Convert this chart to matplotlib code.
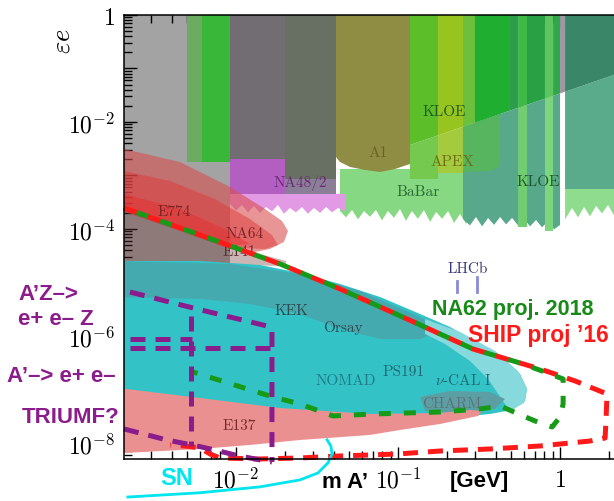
import numpy as np
import matplotlib.pyplot as plt
from matplotlib.ticker import FixedLocator, LogLocator, FuncFormatter, NullFormatter

plt.rcParams['mathtext.fontset'] = 'cm'

# all shapes are given as log10(m_A' / GeV) and log10(eps)

# a_e (gray) region on the upper left
gray_lm = [-2.8, -2.037, -2.037, -2.8]
gray_le = [0.1, 0.1, -4.8, -4.8]

# upper bands with flat bottoms
band_edges = [-2.302, -2.210, -2.037, -1.698, -1.383]
band_bottom = [-2.748, -2.748, -2.692, -3.065]
band_colors = ['#6cab62', '#39b739', '#716d72', '#686f63']

# upper bands ending on the slanted line
slant_edges = [-0.926, -0.753, -0.599, -0.525, -0.309, -0.259, -0.204, -0.093, -0.043, 0.000, 0.031, 0.370]
slant_bottom = [-2.430, -2.250, -2.090, -2.013, -1.788, -1.736, -1.679, -1.564, -1.512, -1.467, -1.435, -1.082]
slant_colors = ['#5cbe28', '#98c41f', '#6cc03c', '#1fae2f', '#2d9d4b', '#3db947',
                '#27a143', '#5ec45e', '#32a64c', '#9e98a2', '#3a8669']

# A1
a1_lm = [-1.383, -0.926, -0.926, -1.019, -1.111, -1.204, -1.296, -1.358, -1.383]
a1_le = [0.1, 0.1, -2.785, -2.879, -2.935, -2.897, -2.841, -2.748, -2.654]

# NA48/2
na48_lm = [-2.037, -1.698, -1.698, -2.037]
na48_le = [-2.692, -2.692, -3.421, -3.421]
na48b_lm = [-1.698, -1.383, -1.383, -1.698]
na48b_le = [-3.065, -3.065, -3.421, -3.421]
na48_fr_lm = [-2.037, -2.000, -1.963, -1.926, -1.889, -1.852, -1.815, -1.778, -1.741, -1.704,
              -1.667, -1.630, -1.593, -1.556, -1.519, -1.481, -1.444, -1.407, -1.370, -1.327]
na48_fr_le = [-3.533, -3.652, -3.551, -3.690, -3.570, -3.700, -3.589, -3.671, -3.551, -3.717,
              -3.607, -3.690, -3.589, -3.717, -3.607, -3.700, -3.589, -3.690, -3.607, -3.671]

# BaBar
babar_lm = [-1.358, -1.321, -1.284, -1.247, -1.210, -1.173, -1.136, -1.099, -1.062, -1.025, -0.988, -0.951,
            -0.914, -0.877, -0.840, -0.802, -0.765, -0.728, -0.691, -0.654, -0.617, -0.580, -0.556]
babar_le = [-3.664, -3.783, -3.645, -3.820, -3.664, -3.772, -3.645, -3.839, -3.664, -3.792, -3.626, -3.848,
            -3.664, -3.810, -3.645, -3.867, -3.682, -3.810, -3.664, -3.885, -3.720, -3.904, -3.776]

# KLOE / APEX lower parts
kloe_lm = [-0.599, -0.556, -0.519, -0.481, -0.444, -0.407, -0.370, -0.333, -0.296,
           -0.259, -0.222, -0.185, -0.148, -0.111, -0.074, -0.037, 0.000]
kloe_le = [-3.813, -3.933, -3.776, -3.951, -3.794, -3.923, -3.776, -3.914, -3.794,
           -3.933, -3.813, -3.951, -3.832, -3.970, -3.850, -4.007, -3.925]
right_lm = [0.031, 0.074, 0.111, 0.148, 0.185, 0.222, 0.259, 0.296, 0.333, 0.370]
right_le = [-3.820, -3.607, -3.783, -3.589, -3.764, -3.570, -3.708, -3.551, -3.746, -3.589]

# beam dumps, red
na64_lm = [-2.778, -2.691, -2.346, -2.037, -1.821, -1.716, -1.679, -1.704, -1.790, -1.914, -2.037, -2.346, -2.691, -2.778]
na64_le = [-2.467, -2.505, -2.748, -3.215, -3.626, -3.850, -4.037, -4.243, -4.374, -4.449, -4.374, -4.037, -3.682, -3.589]
e774_lm = [-2.778, -2.691, -2.407, -2.130, -1.914, -1.778, -1.741, -1.821, -1.975, -2.222, -2.691, -2.778]
e774_le = [-2.879, -2.916, -3.103, -3.439, -3.813, -4.112, -4.299, -4.374, -4.355, -4.150, -3.664, -3.570]
e774b_lm = [-2.778, -2.691, -2.346, -2.068, -1.914, -2.037, -2.346, -2.691, -2.778]
e774b_le = [-3.308, -3.346, -3.626, -4.000, -4.280, -4.318, -4.000, -3.645, -3.551]
e141_lm = [-2.778, -2.691, -2.222, -1.852, -1.691, -1.691, -2.222, -2.691, -2.778]
e141_le = [-3.533, -3.626, -4.131, -4.467, -4.598, -4.700, -4.636, -4.598, -4.598]

# beam dumps, cyan
dump_lm = [-2.778, -2.222, -1.852, -1.605, -1.358, -1.111, -0.864, -0.679, -0.494, -0.340, -0.247, -0.204,
           -0.216, -0.296, -0.432, -0.617, -0.864, -1.173, -1.605, -1.914, -2.222, -2.531, -2.778]
dump_le = [-4.598, -4.598, -4.673, -4.822, -5.028, -5.271, -5.589, -5.832, -6.150, -6.467, -6.710, -6.991,
           -7.215, -7.383, -7.458, -7.514, -7.551, -7.551, -7.477, -7.364, -7.215, -7.065, -6.991]
kek_lm = [-2.778, -2.037, -1.605, -1.235, -0.864, -0.710, -0.864, -1.111, -1.358, -1.605, -1.914, -2.222, -2.778]
kek_le = [-4.598, -4.654, -4.841, -5.159, -5.645, -5.869, -6.056, -6.056, -5.869, -5.589, -5.402, -5.308, -5.271]
nucal_lm = [-0.833, -0.617, -0.401, -0.259, -0.204, -0.222, -0.309, -0.370, -0.444, -0.556, -0.710, -0.833]
nucal_le = [-5.682, -5.925, -6.280, -6.654, -6.991, -7.252, -7.402, -7.140, -6.804, -6.467, -6.150, -5.963]
charm_lm = [-0.864, -0.679, -0.432, -0.340, -0.401, -0.617, -0.833]
charm_le = [-7.140, -7.028, -7.047, -7.178, -7.364, -7.439, -7.402]
e137_lm = [-2.778, -2.222, -1.728, -1.173, -0.741, -0.556, -0.481, -0.506, -0.741, -0.988, -1.173, -1.605,
           -1.914, -2.222, -2.691, -2.778]
e137_le = [-6.953, -7.159, -7.346, -7.458, -7.439, -7.383, -7.402, -7.495, -7.645, -7.757, -7.850, -7.944,
           -8.037, -8.112, -8.187, -8.187]

# projections
ship_lm = [-2.691, -2.222, -1.728, -1.358, -0.944, -0.537, -0.123, 0.093, 0.290, 0.284, 0.278, 0.185,
           -0.123, -0.432, -0.741, -1.006, -1.173, -1.358, -1.605, -1.852, -2.099, -2.160, -2.222, -2.315, -2.407]
ship_le = [-3.607, -4.112, -4.654, -5.121, -5.682, -6.243, -6.617, -6.841, -7.084, -7.551, -7.907, -7.963,
           -8.056, -8.112, -8.150, -8.206, -8.224, -8.243, -8.280, -8.299, -8.280, -8.206, -8.093, -8.056, -8.037]
na62_lm = [-2.691, -2.222, -1.728, -1.358, -0.944, -0.537, -0.247, -0.093, 0.019, 0.019, 0.000, -0.049,
           -0.154, -0.228, -0.370, -0.494, -0.741, -0.944, -1.154, -1.401, -1.605, -1.772, -2.265]
na62_le = [-3.607, -4.112, -4.654, -5.121, -5.682, -6.243, -6.505, -6.673, -6.804, -7.271, -7.514, -7.701,
           -7.589, -7.495, -7.308, -7.364, -7.421, -7.439, -7.458, -7.495, -7.271, -7.140, -6.673]
az_lm = [-2.654, -2.241, -1.809, -1.778, -1.778]
az_le = [-5.178, -5.495, -5.813, -5.869, -8.355]
az_low_lm = [-2.691, -2.426, -2.241, -2.130, -2.006, -1.883, -1.778]
az_low_le = [-7.738, -7.944, -8.056, -8.131, -8.224, -8.299, -8.355]
triumf_h1_lm = [-2.654, -1.778]
triumf_h1_le = [-6.224, -6.224]
triumf_h2_lm = [-2.654, -2.272]
triumf_h2_le = [-6.056, -6.056]
triumf_v_lm = [-2.278, -2.278]
triumf_v_le = [-5.626, -8.056]
sn_lm = [-2.667, -2.222, -1.852, -1.605, -1.494, -1.432, -1.407, -1.414, -1.438]
sn_le = [-9.01, -8.93, -8.82, -8.69, -8.56, -8.37, -8.21, -8.06, -7.94]
lhcb_lm = [-0.639, -0.515]
lhcb_lo = [-5.178, -5.178]
lhcb_hi = [-4.972, -4.897]

x_ticks = [1e-2, 1e-1, 1.0]
y_ticks = [1e-8, 1e-7, 1e-6, 1e-5, 1e-4, 1e-3, 1e-2, 1e-1, 1.0]


def P(v):
    return 10 ** np.asarray(v, dtype=float)


fig = plt.figure(figsize=(6.14, 5.02), dpi=100)
ax = fig.add_axes([0.202, 0.0837, 0.798, 0.8845])
ax.set_xscale('log')
ax.set_yscale('log')


def patch(lm, le, color, z=1, alpha=1.0):
    ax.fill(P(lm), P(le), color=color, alpha=alpha, lw=0, zorder=z)


patch(gray_lm, gray_le, '#a3a3a3', 1)
patch(babar_lm[:1] + babar_lm + babar_lm[-1:],
      [-2.879] + babar_le + [-2.879], '#86d982', 2)
for i, c in enumerate(band_colors):
    patch([band_edges[i], band_edges[i + 1], band_edges[i + 1], band_edges[i]],
          [0.1, 0.1, band_bottom[i], band_bottom[i]], c, 3)
patch(na48_lm, na48_le, '#b35fc1', 3)
patch(na48b_lm, na48b_le, '#8b7f97', 3)
patch(na48_fr_lm[:1] + na48_fr_lm + na48_fr_lm[-1:],
      [-3.346] + na48_fr_le + [-3.346], '#e39ae5', 3)
patch([-0.926, -0.753, -0.753, -0.926], [-2.430, -2.250, -3.065, -3.065], '#74c94e', 2)
patch([-0.753, -0.599, -0.599, -0.753], [-2.250, -2.090, -2.953, -2.953], '#a4cb3e', 2)
patch(kloe_lm[:1] + kloe_lm + kloe_lm[-1:] + [-0.370, -0.599],
      [-2.090] + kloe_le + [-1.467, -1.852, -2.090], '#58a88c', 2)
patch([-0.599, -0.370, -0.370, -0.432, -0.599], [-2.090, -1.852, -2.841, -2.916, -2.935], '#56b55e', 2.5)
patch([-0.259, -0.204, -0.204, -0.259], [-1.736, -1.679, -3.963, -3.963], '#72cd72', 2.5)
patch([-0.093, -0.043, -0.043, -0.093], [-1.564, -1.512, -4.037, -4.037], '#7dd67d', 2.5)
patch(right_lm[:1] + right_lm + right_lm[-1:], [-2.9] + right_le + [-2.9], '#8fdc8f', 2)
patch([0.031, 0.370, 0.370, 0.031], [-1.435, -1.082, -3.252, -3.252], '#5aab8c', 2.5)
for i, c in enumerate(slant_colors):
    patch([slant_edges[i], slant_edges[i + 1], slant_edges[i + 1], slant_edges[i]],
          [0.1, 0.1, slant_bottom[i + 1], slant_bottom[i]], c, 3)
patch(a1_lm, a1_le, '#8f8c44', 3)

patch(na64_lm, na64_le, '#d94e4e', 4, 0.6)
patch(e774_lm, e774_le, '#e03a3a', 4, 0.5)
patch(e774b_lm, e774b_le, '#e82a2a', 4, 0.45)
patch(e141_lm, e141_le, '#6a3030', 4, 0.35)

patch(dump_lm, dump_le, '#33c3c7', 5)
patch(kek_lm, kek_le, '#45aab0', 5)
patch(nucal_lm, nucal_le, '#86d9dc', 5)
patch(charm_lm, charm_le, '#5b9fa4', 5)
patch(e137_lm, e137_le, '#eb9090', 6)

labels = [
    (-0.716, -1.794, 'KLOE', '#1e5e1e'), (-1.123, -2.561, 'A1', '#6b6420'),
    (-0.667, -2.729, 'APEX', '#6e6e12'), (-1.605, -3.121, 'NA48/2', '#6a2a78'),
    (-0.877, -3.290, 'BaBar', '#2a6a32'), (-0.136, -3.103, 'KLOE', '#1d5a2a'),
    (-2.383, -3.664, 'E774', '#7a2424'), (-1.944, -4.075, 'NA64', '#7a2424'),
    (-1.981, -4.411, 'E141', '#5a3030'), (-1.660, -5.514, 'KEK', '#2d4a4e'),
    (-1.340, -5.832, 'Orsay', '#2d4a4e'), (-1.321, -6.822, 'NOMAD', '#1f7c86'),
    (-0.963, -6.654, 'PS191', '#1f6a74'), (-0.599, -6.822, r'$\nu$-CAL I', '#1f6a74'),
    (-0.667, -7.252, 'CHARM', '#5f7275'), (-1.981, -7.664, 'E137', '#7a2a2a'),
    (-0.568, -4.729, 'LHCb', '#3a3a78'),
]
for lx, ly, s, c in labels:
    ax.text(10 ** lx, 10 ** ly, s, color=c, fontsize=11, family='cmr10',
            ha='center', va='center', zorder=8)
for x, lo, hi in zip(lhcb_lm, lhcb_lo, lhcb_hi):
    ax.plot([10 ** x, 10 ** x], [10 ** lo, 10 ** hi], color='#8a8ad6', lw=2, zorder=8)

ax.plot(P(ship_lm), P(ship_le), color='#ff1a1a', lw=3.6, ls=(0, (3, 2)), clip_on=False, zorder=10)
ax.plot(P(na62_lm), P(na62_le), color='#179a17', lw=3.6, ls=(2.3, (2.4, 2.6)), clip_on=False, zorder=11)
purple = '#8b1c8b'
for xs, ys in [(az_lm, az_le), (az_low_lm, az_low_le), (triumf_h1_lm, triumf_h1_le),
               (triumf_h2_lm, triumf_h2_le), (triumf_v_lm, triumf_v_le)]:
    ax.plot(P(xs), P(ys), color=purple, lw=3.6, ls=(0, (3, 2)), clip_on=False, zorder=12)
ax.plot(P(sn_lm), P(sn_le), color='#00e5ee', lw=2, clip_on=False, zorder=12)

ax.set_xlim(10 ** -2.691, 10 ** 0.333)
ax.set_ylim(10 ** -8.299, 1)

ax.xaxis.set_major_locator(FixedLocator(x_ticks))
ax.yaxis.set_major_locator(FixedLocator(y_ticks))
ax.xaxis.set_minor_locator(LogLocator(base=10, subs=np.arange(2, 10), numticks=20))
ax.yaxis.set_minor_locator(LogLocator(base=10, subs=np.arange(2, 10), numticks=20))
ax.xaxis.set_minor_formatter(NullFormatter())
ax.yaxis.set_minor_formatter(NullFormatter())


def fmt(v, pos):
    e = int(round(np.log10(v)))
    if e == 0:
        return '$1$'
    return '$10^{%d}$' % e


def fmt_y(v, pos):
    e = int(round(np.log10(v)))
    return fmt(v, pos) if e % 2 == 0 else ''


ax.xaxis.set_major_formatter(FuncFormatter(fmt))
ax.yaxis.set_major_formatter(FuncFormatter(fmt_y))
ax.tick_params(which='both', direction='in', top=True, right=False, width=1, labelsize=17)
ax.tick_params(which='major', length=9)
ax.tick_params(which='minor', length=5.5)
ax.tick_params(axis='x', pad=6)
ax.tick_params(axis='y', pad=6.5)
ax.spines['right'].set_visible(False)
for s in ['left', 'top', 'bottom']:
    ax.spines[s].set_linewidth(1.1)
    ax.spines[s].set_zorder(15)

fig.text(0.1026, 0.9183, r'$\varepsilon e$', fontsize=19, rotation=90, ha='center', va='center')

bold = dict(fontweight='bold', family=['Liberation Sans', 'DejaVu Sans'], ha='left', va='baseline')
fig.text(0.0293, 0.4024, 'A’Z–>', color=purple, fontsize=16, **bold)
fig.text(0.0293, 0.3526, 'e+ e– Z', color=purple, fontsize=16, **bold)
fig.text(0.0114, 0.2390, 'A’–> e+ e–', color=purple, fontsize=16, **bold)
fig.text(0.0358, 0.1574, 'TRIUMF?', color=purple, fontsize=16, **bold)
fig.text(0.7036, 0.3725, 'NA62 proj. 2018', color='#178a17', fontsize=15.5, **bold)
fig.text(0.7622, 0.3187, 'SHIP proj ’16', color='#ff1a1a', fontsize=16.5, **bold)
fig.text(0.5244, 0.0279, 'm A’', color='black', fontsize=16, **bold)
fig.text(0.7329, 0.0299, '[GeV]', color='black', fontsize=16, **bold)
fig.text(0.2606, 0.0339, 'SN', color='#00e5ee', fontsize=17, **bold)

fig.savefig('out.png', dpi=100)
